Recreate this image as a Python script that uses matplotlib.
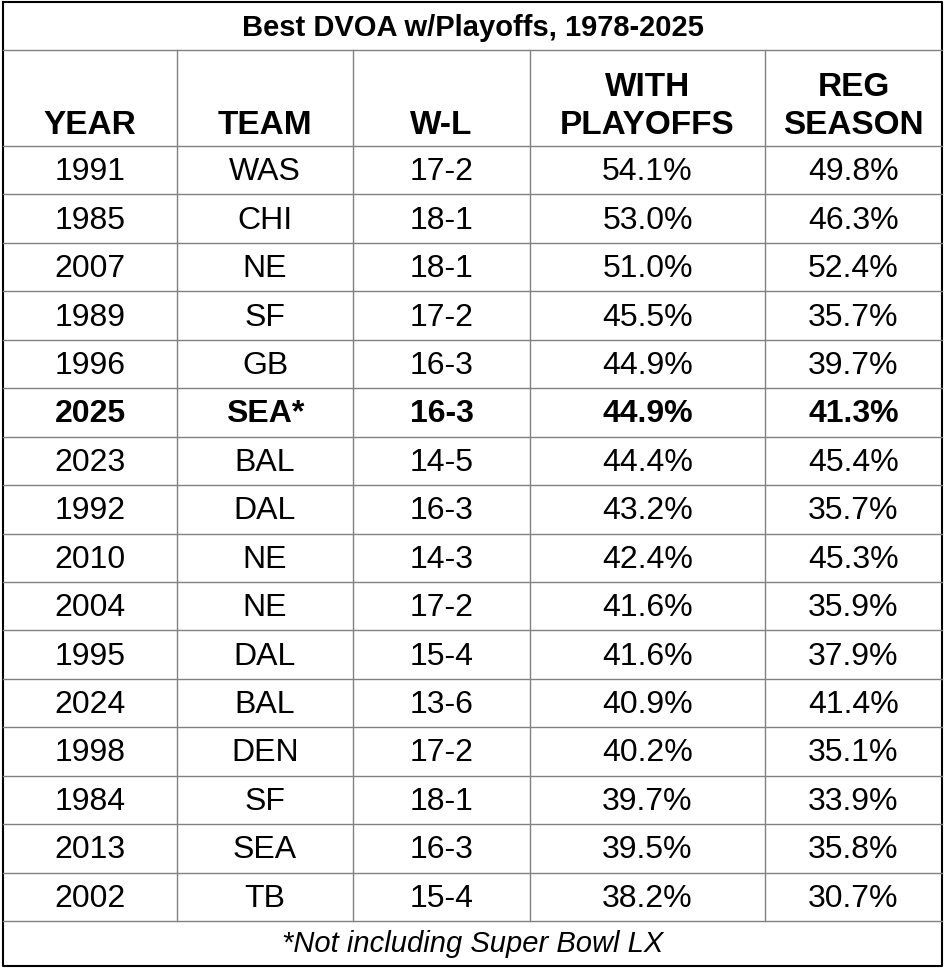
import matplotlib
matplotlib.use("Agg")
import matplotlib.pyplot as plt

title = "Best DVOA w/Playoffs, 1978-2025"
headers = ["YEAR", "TEAM", "W-L", "WITH\nPLAYOFFS", "REG\nSEASON"]
years = ["1991","1985","2007","1989","1996","2025","2023","1992","2010","2004","1995","2024","1998","1984","2013","2002"]
teams = ["WAS","CHI","NE","SF","GB","SEA*","BAL","DAL","NE","NE","DAL","BAL","DEN","SF","SEA","TB"]
wl = ["17-2","18-1","18-1","17-2","16-3","16-3","14-5","16-3","14-3","17-2","15-4","13-6","17-2","18-1","16-3","15-4"]
with_po = ["54.1%","53.0%","51.0%","45.5%","44.9%","44.9%","44.4%","43.2%","42.4%","41.6%","41.6%","40.9%","40.2%","39.7%","39.5%","38.2%"]
reg = ["49.8%","46.3%","52.4%","35.7%","39.7%","41.3%","45.4%","35.7%","45.3%","35.9%","37.9%","41.4%","35.1%","33.9%","35.8%","30.7%"]
bold_row = 5
footer = "*Not including Super Bowl LX"

plt.rcParams['font.family'] = ['Liberation Sans', 'DejaVu Sans']
W, H = 945, 970
fig = plt.figure(figsize=(W/100, H/100), dpi=100)
ax = fig.add_axes([0, 0, 1, 1])
ax.set_xlim(0, W); ax.set_ylim(H, 0); ax.axis('off')

cols = [3, 177, 353, 530, 765, 942]
top, t_bot, h_bot, f_top, bot = 3, 51, 147, 922, 967
n = len(years)
rh = (f_top - h_bot) / n
lc = '#808080'

ax.plot([cols[0], cols[-1], cols[-1], cols[0], cols[0]], [top, top, bot, bot, top], color='black', lw=1.5)
for y in [t_bot, h_bot, f_top]:
    ax.plot([cols[0], cols[-1]], [y, y], color=lc, lw=1)
for i in range(1, n):
    y = h_bot + i * rh
    ax.plot([cols[0], cols[-1]], [y, y], color=lc, lw=1)
for x in cols[1:-1]:
    ax.plot([x, x], [t_bot, f_top], color=lc, lw=1)

ax.text(W/2, (top + t_bot)/2 + 1, title, ha='center', va='center', fontsize=21, fontweight='bold')
for j, h in enumerate(headers):
    cx = (cols[j] + cols[j+1]) / 2
    ax.text(cx, h_bot - 6, h, ha='center', va='bottom', fontsize=24, fontweight='bold', linespacing=1.3)
data = [years, teams, wl, with_po, reg]
for i in range(n):
    cy = h_bot + (i + 0.5) * rh + 1
    for j, col in enumerate(data):
        cx = (cols[j] + cols[j+1]) / 2
        ax.text(cx, cy, col[i], ha='center', va='center', fontsize=23,
                fontweight='bold' if i == bold_row else 'normal')
ax.text(W/2, (f_top + bot)/2, footer, ha='center', va='center', fontsize=21, style='italic')
fig.savefig("out.png", dpi=100)
